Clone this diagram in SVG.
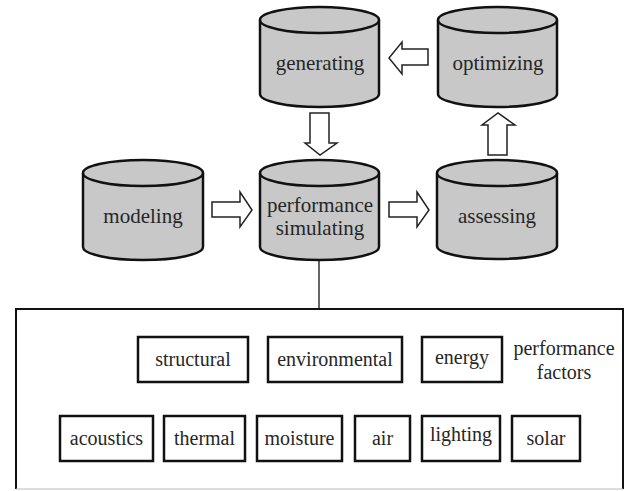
<svg xmlns="http://www.w3.org/2000/svg" width="629" height="491" viewBox="0 0 629 491">
<style>
.cyl{fill:#c8c8c8;stroke:#111;stroke-width:2.5}
.arr{fill:#fff;stroke:#222;stroke-width:1.5;stroke-linejoin:miter}
.box{fill:#fff;stroke:#111;stroke-width:2.5}
.t{font-family:'Liberation Serif','Times New Roman',serif;fill:#262626;text-anchor:middle}
.big{font-size:21px}
.sm{font-size:20px}
</style>
<rect width="629" height="491" fill="#fff"/>
<g id="connectors">
<polygon class="arr" points="428,49 402,49 402,42 389,58 402,74 402,65 428,65"/>
<polygon class="arr" points="310,113 329,113 329,143 337,143 320,155 305,143 310,143"/>
<polygon class="arr" points="212,202 240,202 240,192 252,210 240,227 240,217 212,217"/>
<polygon class="arr" points="389,202 417,202 417,192 429,210 417,227 417,217 389,217"/>
<polygon class="arr" points="488,155 488,125 482,125 498,113 515,125 507,125 507,155"/>
<line x1="319" y1="260" x2="319" y2="309" stroke="#333" stroke-width="1.5"/>
</g>
<g id="generating">
<path class="cyl" d="M260,20 L260,94 A59.5,13 0 0 0 379,94 L379,20"/>
<ellipse class="cyl" cx="319.5" cy="20" rx="59.5" ry="13"/>
<text class="t big" x="320" y="70">generating</text>
</g>
<g id="optimizing">
<path class="cyl" d="M438,20 L438,94 A59.5,13 0 0 0 557,94 L557,20"/>
<ellipse class="cyl" cx="497.5" cy="20" rx="59.5" ry="13"/>
<text class="t big" x="498" y="70">optimizing</text>
</g>
<g id="modeling">
<path class="cyl" d="M83,173 L83,247 A60,13 0 0 0 203,247 L203,173"/>
<ellipse class="cyl" cx="143" cy="173" rx="60" ry="13"/>
<text class="t big" x="143" y="223">modeling</text>
</g>
<g id="performance-simulating">
<path class="cyl" d="M260,173 L260,247 A59.5,13 0 0 0 379,247 L379,173"/>
<ellipse class="cyl" cx="319.5" cy="173" rx="59.5" ry="13"/>
<text class="t big" x="320" y="212">performance</text>
<text class="t big" x="320" y="235">simulating</text>
</g>
<g id="assessing">
<path class="cyl" d="M437,173 L437,246 A60,13 0 0 0 557,246 L557,173"/>
<ellipse class="cyl" cx="497" cy="173" rx="60" ry="13"/>
<text class="t big" x="497" y="223">assessing</text>
</g>
<g id="factors-panel">
<path d="M16,489 L16,309 L623,309 L623,489" fill="none" stroke="#111" stroke-width="2"/>
<line x1="16" y1="489" x2="623" y2="489" stroke="#bbb" stroke-width="1"/>
</g>
<g id="structural"><rect class="box" x="138" y="337" width="110" height="45"/><text class="t sm" x="193" y="366">structural</text></g>
<g id="environmental"><rect class="box" x="268" y="337" width="134" height="45"/><text class="t sm" x="335" y="366">environmental</text></g>
<g id="energy"><rect class="box" x="422" y="337" width="80" height="45"/><text class="t sm" x="462" y="364">energy</text></g>
<g id="performance-factors"><text class="t sm" x="564" y="355">performance</text><text class="t sm" x="564" y="379">factors</text></g>
<g id="acoustics"><rect class="box" x="60" y="416" width="93" height="45"/><text class="t sm" x="106.5" y="445">acoustics</text></g>
<g id="thermal"><rect class="box" x="164" y="416" width="81" height="45"/><text class="t sm" x="204.5" y="445">thermal</text></g>
<g id="moisture"><rect class="box" x="257" y="416" width="85" height="45"/><text class="t sm" x="299.5" y="445">moisture</text></g>
<g id="air"><rect class="box" x="355" y="416" width="55" height="45"/><text class="t sm" x="382.5" y="445">air</text></g>
<g id="lighting"><rect class="box" x="422" y="416" width="78" height="45"/><text class="t sm" x="461" y="441">lighting</text></g>
<g id="solar"><rect class="box" x="512" y="416" width="68" height="45"/><text class="t sm" x="546" y="445">solar</text></g>
</svg>
